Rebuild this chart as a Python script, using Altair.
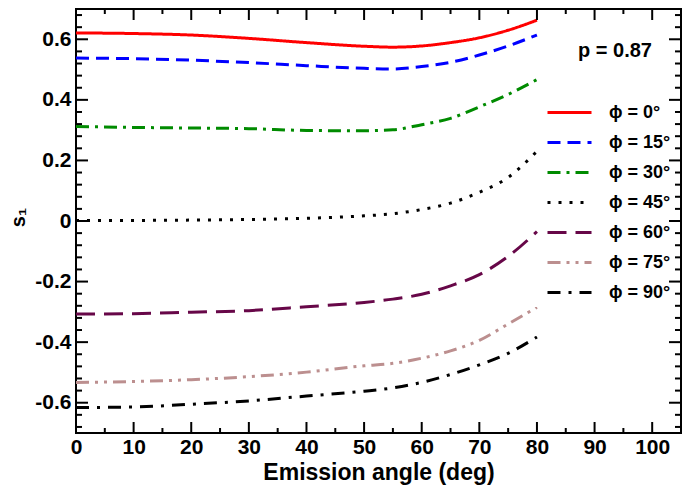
import altair as alt
import pandas as pd

# ---------------- data ----------------
emission = [0, 10, 20, 30, 40, 50, 55, 60, 65, 70, 75, 80]
phi_labels = ["ϕ = 0°", "ϕ = 15°", "ϕ = 30°", "ϕ = 45°", "ϕ = 60°", "ϕ = 75°", "ϕ = 90°"]
s_phi0 = [0.621, 0.619, 0.614, 0.603, 0.589, 0.577, 0.574, 0.578, 0.589, 0.605, 0.630, 0.663]
s_phi15 = [0.538, 0.536, 0.531, 0.523, 0.513, 0.504, 0.502, 0.510, 0.524, 0.548, 0.578, 0.614]
s_phi30 = [0.312, 0.309, 0.307, 0.305, 0.299, 0.298, 0.301, 0.318, 0.339, 0.377, 0.418, 0.467]
s_phi45 = [0.002, 0.002, 0.003, 0.005, 0.009, 0.017, 0.024, 0.038, 0.059, 0.095, 0.144, 0.230]
s_phi60 = [-0.307, -0.306, -0.301, -0.296, -0.283, -0.269, -0.258, -0.242, -0.214, -0.177, -0.117, -0.035]
s_phi75 = [-0.533, -0.530, -0.524, -0.514, -0.499, -0.478, -0.470, -0.453, -0.429, -0.394, -0.340, -0.285]
s_phi90 = [-0.616, -0.614, -0.605, -0.594, -0.578, -0.562, -0.551, -0.533, -0.507, -0.475, -0.437, -0.383]
series = [s_phi0, s_phi15, s_phi30, s_phi45, s_phi60, s_phi75, s_phi90]

colors = ["#ff0000", "#0000ff", "#008b00", "#000000", "#670748", "#bc8f8f", "#000000"]
dashes = [[1, 0], [13, 7], [13, 6, 3, 6], [3, 8], [19, 9], [13, 6, 3, 6, 3, 6], [13, 8, 3, 8]]

annotation = ["p = 0.87"]

x_major = [0, 10, 20, 30, 40, 50, 60, 70, 80, 90, 100]
x_minor = [5, 15, 25, 35, 45, 55, 65, 75, 85, 95]
y_major = [-0.6, -0.4, -0.2, 0.0, 0.2, 0.4, 0.6]
y_minor = [-0.68, -0.64, -0.56, -0.52, -0.48, -0.44, -0.36, -0.32, -0.28, -0.24,
           -0.16, -0.12, -0.08, -0.04, 0.04, 0.08, 0.12, 0.16, 0.24, 0.28, 0.32, 0.36,
           0.44, 0.48, 0.52, 0.56, 0.64, 0.68]

# ---------------- build ----------------
rows = []
for lab, vals in zip(phi_labels, series):
    for x, y in zip(emission, vals):
        rows.append({"angle": x, "s1": y, "phi": lab})
df = pd.DataFrame(rows)

W, H = 605, 424
FONT = "Liberation Sans"
xscale = alt.Scale(domain=[0, 105], nice=False, zero=False)
yscale = alt.Scale(domain=[-0.7, 0.7], nice=False, zero=False)

x_axis = alt.Axis(values=x_major, title="Emission angle (deg)", ticks=False, tickSize=0,
                  domain=False, grid=False, labelFont=FONT, labelFontSize=21,
                  labelFontWeight="bold", labelColor="black", labelPadding=3,
                  labelFlush=False, titleFont=FONT, titleFontSize=23,
                  titleFontWeight="bold", titleColor="black", titleY=46,
                  titleBaseline="alphabetic")
y_axis = alt.Axis(values=y_major, title="s₁", ticks=False, tickSize=0, domain=False,
                  grid=False, labelFont=FONT, labelFontSize=21, labelFontWeight="bold",
                  labelColor="black", labelPadding=5,
                  labelExpr="abs(datum.value) < 1e-9 ? '0' : (datum.value < 0 ? '-' + format(-datum.value, '.1f') : format(datum.value, '.1f'))",
                  titleFont=FONT, titleFontSize=20, titleFontWeight="bold",
                  titleColor="black", titleX=-58, titleY=208, titleAngle=270,
                  titleBaseline="middle", titleAlign="center")

# long horizontal stroke symbol: path spans [-2, 2] so its length is 2*sqrt(symbolSize)
leg = alt.Legend(orient="none", legendX=481, legendY=91, title=None,
                 symbolType="M-2,0H2", symbolSize=484, symbolStrokeWidth=3,
                 symbolFillColor="transparent",
                 labelFont=FONT, labelFontSize=18, labelFontWeight="bold",
                 labelColor="black", labelOffset=27, rowPadding=8, labelLimit=200)

lines = alt.Chart(df).mark_line(strokeWidth=3, interpolate="monotone", strokeCap="butt").encode(
    x=alt.X("angle:Q", scale=xscale, axis=x_axis),
    y=alt.Y("s1:Q", scale=yscale, axis=y_axis),
    color=alt.Color("phi:N", sort=phi_labels,
                    scale=alt.Scale(domain=phi_labels, range=colors), legend=leg),
    strokeDash=alt.StrokeDash("phi:N", sort=phi_labels,
                              scale=alt.Scale(domain=phi_labels, range=dashes), legend=leg),
)


def x_ticks(vals, length):
    d = pd.DataFrame({"v": vals})
    bottom = alt.Chart(d).mark_rule(color="black", strokeWidth=2).encode(
        x=alt.X("v:Q", scale=xscale, axis=x_axis), y=alt.value(H), y2=alt.value(H - length))
    top = alt.Chart(d).mark_rule(color="black", strokeWidth=2).encode(
        x=alt.X("v:Q", scale=xscale, axis=x_axis), y=alt.value(0), y2=alt.value(length))
    return [bottom, top]


def y_ticks(vals, length):
    d = pd.DataFrame({"v": vals})
    left = alt.Chart(d).mark_rule(color="black", strokeWidth=2).encode(
        y=alt.Y("v:Q", scale=yscale, axis=y_axis), x=alt.value(0), x2=alt.value(length))
    right = alt.Chart(d).mark_rule(color="black", strokeWidth=2).encode(
        y=alt.Y("v:Q", scale=yscale, axis=y_axis), x=alt.value(W), x2=alt.value(W - length))
    return [left, right]


tick_layers = x_ticks(x_major, 11) + x_ticks(x_minor, 5) + y_ticks(y_major, 12) + y_ticks(y_minor, 6)

note = alt.Chart(pd.DataFrame({"t": annotation})).mark_text(
    font=FONT, fontSize=20, fontWeight="bold", color="black", align="center",
    baseline="middle").encode(x=alt.value(539), y=alt.value(42), text="t:N")

chart = alt.layer(lines, *tick_layers, note).properties(
    width=W, height=H,
    background="white",
    autosize=alt.AutoSizeParams(type="none"),
    padding={"left": 68, "top": 1, "right": 1, "bottom": 52},
).configure_view(stroke="black", strokeWidth=2)

chart.save("out.html", embed_options={"renderer": "svg", "actions": False})
